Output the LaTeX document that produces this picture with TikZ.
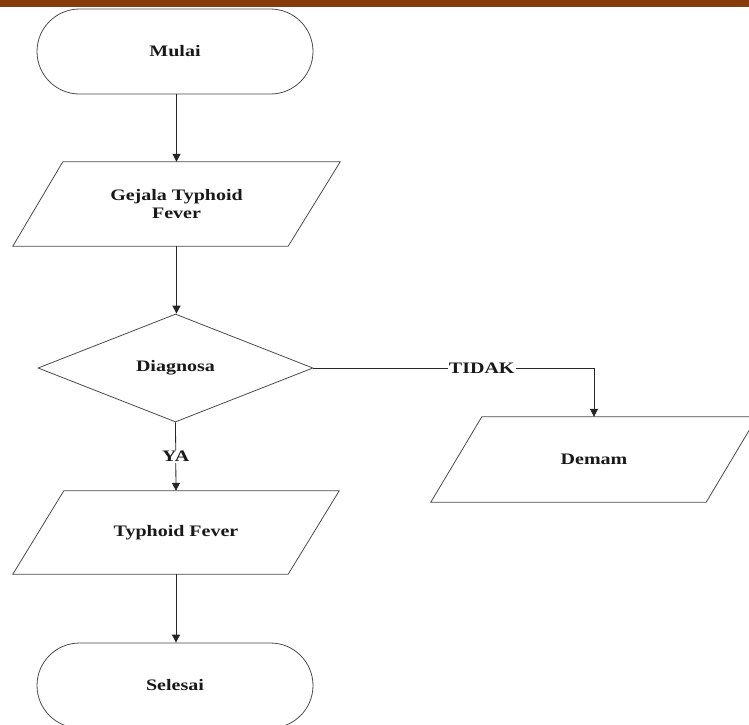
\documentclass[tikz,border=0pt]{standalone}
\usepackage{fontspec}
\setmainfont{Liberation Serif}
\usetikzlibrary{shapes.geometric,shapes.misc,arrows.meta}
\definecolor{barbrown}{HTML}{843C0C}
\definecolor{outline}{HTML}{4A4A4A}
\newcommand{\wtxt}[1]{\scalebox{1.25}[1]{#1}}
\begin{document}
\begin{tikzpicture}[x=1pt,y=-1pt,
  lbl/.style={font=\fontsize{16}{20}\selectfont\bfseries, text=black!90, align=center},
  term/.style={rounded rectangle, draw=outline, line width=0.8pt, minimum width=276pt, minimum height=85pt, inner sep=0pt, lbl},
  decis/.style={diamond, draw=outline, line width=0.8pt, minimum width=275pt, minimum height=108pt, inner sep=0pt, aspect=2.55, lbl},
  iobox/.style={inner sep=0pt, minimum height=84pt, lbl},
  para/.style={draw=outline, line width=0.8pt},
  conn/.style={draw=black!85, line width=0.8pt, -{Triangle[length=8pt,width=8pt]}},
  edgelbl/.style={lbl, fill=white, inner sep=1pt}]
\useasboundingbox (0,0) rectangle (749,724);
\fill[barbrown] (0,0) rectangle (749,7);

\node[term] (mulai) at (175,51.5) {\wtxt{Mulai}};

\node[iobox, minimum width=327pt] (gejala) at (176.5,204) {\wtxt{Gejala Typhoid}\\[-2pt]\wtxt{Fever}};
\draw[para] ([xshift=50pt]gejala.north west) -- (gejala.north east) -- ([xshift=-52pt]gejala.south east) -- (gejala.south west) -- cycle;

\node[decis] (diag) at (175.5,368) {\wtxt{Diagnosa}};

\node[iobox, minimum width=326pt, minimum height=85pt] (demam) at (594,459.5) {\wtxt{Demam}};
\draw[para] ([xshift=51pt]demam.north west) -- (demam.north east) -- ([xshift=-51pt]demam.south east) -- (demam.south west) -- cycle;

\node[iobox, minimum width=326pt, minimum height=83pt] (typh) at (176,532.5) {\wtxt{Typhoid Fever}};
\draw[para] ([xshift=51pt]typh.north west) -- (typh.north east) -- ([xshift=-51pt]typh.south east) -- (typh.south west) -- cycle;

\node[term] (selesai) at (175,685.5) {\wtxt{Selesai}};

\draw[conn] (mulai.south -| gejala.north) -- (gejala.north);
\draw[conn] (gejala.south) -- (diag.north -| gejala.south);
\draw[conn] (diag.east) -| node[edgelbl, pos=0.3] {\wtxt{TIDAK}} (demam.north);
\draw[conn] (diag.south) -- node[edgelbl] {\wtxt{YA}} (typh.north);
\draw[conn] (typh.south) -- (selesai.north -| typh.south);
\end{tikzpicture}
\end{document}
